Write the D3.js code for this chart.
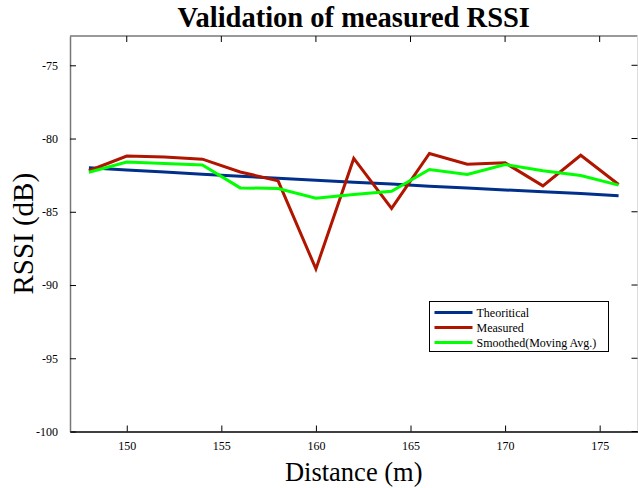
<!DOCTYPE html>
<html>
<head>
<meta charset="utf-8">
<script src="https://cdn.jsdelivr.net/npm/d3@7"></script>
<style>
  body { margin: 0; background: #fff; }
  text { font-family: "Liberation Serif", "Times New Roman", serif; }
</style>
</head>
<body>
<div id="chart-area"></div>
<script>
// Distance (m) vs RSSI (dB)
var distance = [148, 150, 152, 154, 156, 158, 160, 162, 164, 166, 168, 170, 172, 174, 176];
var theoretical = [-82.00, -82.15, -82.29, -82.43, -82.57, -82.71, -82.85, -82.98, -83.11, -83.25, -83.38, -83.51, -83.63, -83.76, -83.90];
var measured = [-82.2, -81.2, -81.26, -81.41, -82.28, -82.89, -88.9, -81.36, -84.77, -81.02, -81.75, -81.66, -83.23, -81.14, -83.14];
var smoothed = [-82.3, -81.6, -81.7, -81.8, -83.37, -83.41, -84.07, -83.82, -83.6, -82.11, -82.46, -81.77, -82.2, -82.52, -83.18];
var xTicks = [150, 155, 160, 165, 170, 175];
var yTicks = [-100, -95, -90, -85, -80, -75];
var seriesNames = ["Theoritical", "Measured", "Smoothed(Moving Avg.)"];
var seriesColors = ["#00308a", "#b01500", "#00ff00"];

var margin = {top: 36, left: 70, bottom: 56.5, right: 0.5};
var width = 638 - margin.left - margin.right,
    height = 488 - margin.top - margin.bottom;

var svg = d3.select("#chart-area")
    .append("svg")
        .attr("width", 638)
        .attr("height", 488);

var g = svg.append("g")
    .attr("transform", "translate(" + margin.left + ", " + margin.top + ")");

// Scales
var x = d3.scaleLinear()
    .range([0, width])
    .domain([147, 177]);

var y = d3.scaleLinear()
    .range([height, 0])
    .domain([-100, -73]);

// Box (top/right borders)
g.append("line")
    .attr("x1", 0).attr("x2", width).attr("y1", 0).attr("y2", 0)
    .attr("stroke", "#777").attr("stroke-width", 1.5);
g.append("line")
    .attr("x1", width).attr("x2", width).attr("y1", 0).attr("y2", height)
    .attr("stroke", "#ddd").attr("stroke-width", 1);

// top and right inner ticks
g.selectAll(".ttick")
    .data(xTicks)
    .enter().append("line")
        .attr("x1", d => x(d)).attr("x2", d => x(d))
        .attr("y1", 0).attr("y2", 6)
        .attr("stroke", "#000");
g.selectAll(".rtick")
    .data(yTicks)
    .enter().append("line")
        .attr("x1", width).attr("x2", width - 6)
        .attr("y1", d => y(d)).attr("y2", d => y(d))
        .attr("stroke", "#000");

// Axes
var xAxis = d3.axisBottom(x)
    .tickValues(xTicks)
    .tickSizeInner(-6)
    .tickSizeOuter(0)
    .tickPadding(10);
var xg = g.append("g")
    .attr("class", "x axis")
    .attr("transform", "translate(0, " + height + ")")
    .call(xAxis);
xg.select(".domain").attr("stroke", "#000").attr("stroke-width", 1.5);
xg.selectAll("text").attr("font-size", "12px").attr("fill", "#000");

var yAxis = d3.axisLeft(y)
    .tickValues(yTicks)
    .tickSizeInner(-6)
    .tickSizeOuter(0)
    .tickPadding(12)
    .tickFormat(d => "-" + Math.abs(d));
var yg = g.append("g")
    .attr("class", "y axis")
    .call(yAxis);
yg.select(".domain").attr("stroke", "#777").attr("stroke-width", 1.5);
yg.selectAll("text").attr("font-size", "12px").attr("fill", "#000");

// Lines
var allSeries = [theoretical, measured, smoothed];
var line = d3.line()
    .x((d, i) => x(distance[i]))
    .y(d => y(d));

g.selectAll(".series")
    .data(allSeries)
    .enter().append("path")
        .attr("class", "series")
        .attr("d", d => line(d))
        .attr("fill", "none")
        .attr("stroke", (d, i) => seriesColors[i])
        .attr("stroke-width", 3)
        .attr("stroke-linejoin", "miter");

// Legend
var legend = svg.append("g")
    .attr("transform", "translate(429.5, 301.5)");
legend.append("rect")
    .attr("width", 179).attr("height", 50)
    .attr("fill", "#fff")
    .attr("stroke", "#000").attr("stroke-width", 1);
seriesNames.forEach((name, i) => {
    var row = legend.append("g").attr("transform", "translate(0, " + (11 + i * 15) + ")");
    row.append("line")
        .attr("x1", 5).attr("x2", 43)
        .attr("stroke", seriesColors[i]).attr("stroke-width", 2.8);
    row.append("text")
        .attr("x", 47).attr("y", 4)
        .attr("font-size", "12px")
        .text(name);
});

// Title and axis labels
svg.append("text")
    .attr("x", margin.left + width / 2)
    .attr("y", 27)
    .attr("text-anchor", "middle")
    .attr("font-size", "28.5px")
    .attr("font-weight", "bold")
    .text("Validation of measured RSSI");

svg.append("text")
    .attr("x", margin.left + width / 2)
    .attr("y", 481)
    .attr("text-anchor", "middle")
    .attr("font-size", "26.5px")
    .text("Distance (m)");

svg.append("text")
    .attr("transform", "translate(33, " + (margin.top + height / 2) + ") rotate(-90)")
    .attr("text-anchor", "middle")
    .attr("font-size", "29px")
    .text("RSSI (dB)");
</script>
</body>
</html>
